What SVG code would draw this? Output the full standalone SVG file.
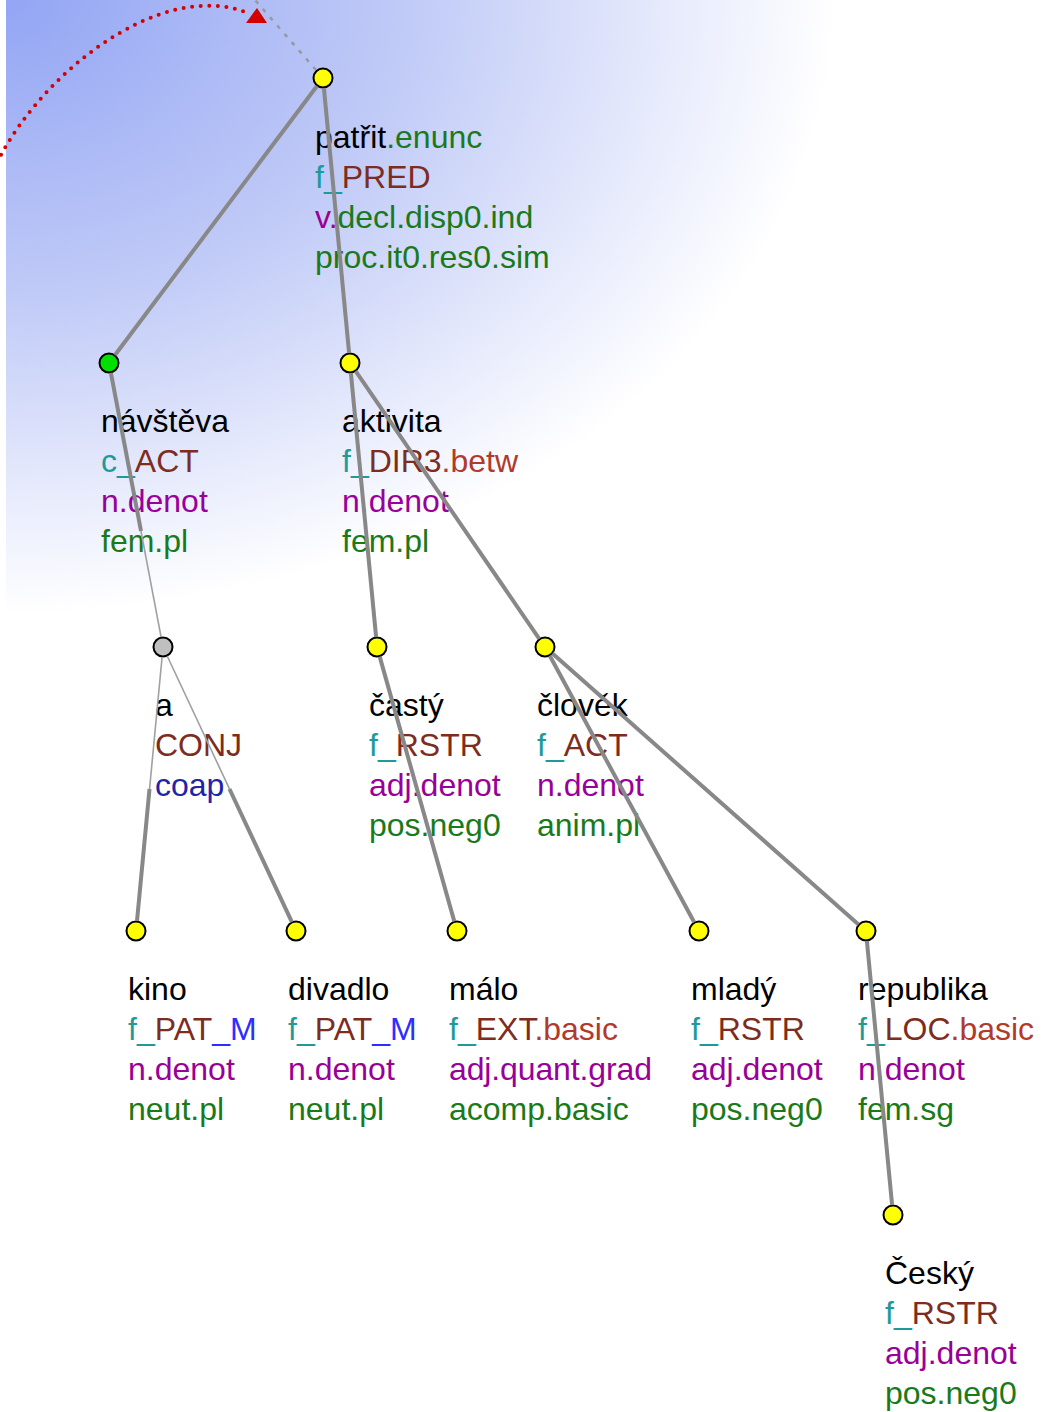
<svg xmlns="http://www.w3.org/2000/svg" width="1042" height="1412" viewBox="0 0 1042 1412">
<defs>
<radialGradient id="bg" gradientUnits="userSpaceOnUse" cx="0" cy="0" r="830" gradientTransform="translate(6 0) scale(1 0.74)">
<stop offset="0" stop-color="#93a5f4"/>
<stop offset="0.5" stop-color="#c2ccf7"/>
<stop offset="1" stop-color="#ffffff"/>
</radialGradient>
<style>
text{font-family:"Liberation Sans",Arial,sans-serif;font-size:32px;}
.k{fill:#000000}.g{fill:#1a7a1a}.t{fill:#1f9a9a}.b{fill:#7d2c1e}.s{fill:#b03a2c}.p{fill:#990099}.m{fill:#2e2eff}.d{fill:#2323a8}
.nd{stroke:#000;stroke-width:2;}
.y{fill:#ffff00}.gr{fill:#00e000}.gy{fill:#c0c0c0}
.e{stroke:#888888;stroke-width:4;fill:none;stroke-linecap:butt}
.th{stroke:#a0a0a0;stroke-width:1.6;fill:none}
</style>
</defs>
<rect x="0" y="0" width="1042" height="1412" fill="#ffffff"/>
<rect x="6" y="0" width="1036" height="1412" fill="url(#bg)"/>

<g id="n-root">
<circle class="nd y" cx="323" cy="78" r="9.5"/>
<text x="315" y="148"><tspan class="k">patřit</tspan><tspan class="g">.enunc</tspan></text>
<text x="315" y="188"><tspan class="t">f_</tspan><tspan class="b">PRED</tspan></text>
<text x="315" y="228"><tspan class="p">v.</tspan><tspan class="g">decl.disp0.ind</tspan></text>
<text x="315" y="268" class="g">proc.it0.res0.sim</text>
</g>
<g id="n-navsteva">
<circle class="nd gr" cx="109" cy="363" r="9.5"/>
<text x="101" y="432" class="k">návštěva</text>
<text x="101" y="472"><tspan class="t">c_</tspan><tspan class="b">ACT</tspan></text>
<text x="101" y="512" class="p">n.denot</text>
<text x="101" y="552" class="g">fem.pl</text>
</g>
<g id="n-aktivita">
<circle class="nd y" cx="350" cy="363" r="9.5"/>
<text x="342" y="432" class="k">aktivita</text>
<text x="342" y="472"><tspan class="t">f_</tspan><tspan class="b">DIR3</tspan><tspan class="s">.betw</tspan></text>
<text x="342" y="512" class="p">n.denot</text>
<text x="342" y="552" class="g">fem.pl</text>
</g>
<g id="n-a">
<circle class="nd gy" cx="163" cy="647" r="9.5"/>
<text x="155" y="716" class="k">a</text>
<text x="155" y="756" class="b">CONJ</text>
<text x="155" y="796" class="d">coap</text>
</g>
<g id="n-casty">
<circle class="nd y" cx="377" cy="647" r="9.5"/>
<text x="369" y="716" class="k">častý</text>
<text x="369" y="756"><tspan class="t">f_</tspan><tspan class="b">RSTR</tspan></text>
<text x="369" y="796" class="p">adj.denot</text>
<text x="369" y="836" class="g">pos.neg0</text>
</g>
<g id="n-clovek">
<circle class="nd y" cx="545" cy="647" r="9.5"/>
<text x="537" y="716" class="k">člověk</text>
<text x="537" y="756"><tspan class="t">f_</tspan><tspan class="b">ACT</tspan></text>
<text x="537" y="796" class="p">n.denot</text>
<text x="537" y="836" class="g">anim.pl</text>
</g>
<g id="n-kino">
<circle class="nd y" cx="136" cy="931" r="9.5"/>
<text x="128" y="1000" class="k">kino</text>
<text x="128" y="1040"><tspan class="t">f_</tspan><tspan class="b">PAT</tspan><tspan class="m">_M</tspan></text>
<text x="128" y="1080" class="p">n.denot</text>
<text x="128" y="1120" class="g">neut.pl</text>
</g>
<g id="n-divadlo">
<circle class="nd y" cx="296" cy="931" r="9.5"/>
<text x="288" y="1000" class="k">divadlo</text>
<text x="288" y="1040"><tspan class="t">f_</tspan><tspan class="b">PAT</tspan><tspan class="m">_M</tspan></text>
<text x="288" y="1080" class="p">n.denot</text>
<text x="288" y="1120" class="g">neut.pl</text>
</g>
<g id="n-malo">
<circle class="nd y" cx="457" cy="931" r="9.5"/>
<text x="449" y="1000" class="k">málo</text>
<text x="449" y="1040"><tspan class="t">f_</tspan><tspan class="b">EXT</tspan><tspan class="s">.basic</tspan></text>
<text x="449" y="1080" class="p" textLength="203" lengthAdjust="spacing">adj.quant.grad</text>
<text x="449" y="1120" class="g">acomp.basic</text>
</g>
<g id="n-mlady">
<circle class="nd y" cx="699" cy="931" r="9.5"/>
<text x="691" y="1000" class="k">mladý</text>
<text x="691" y="1040"><tspan class="t">f_</tspan><tspan class="b">RSTR</tspan></text>
<text x="691" y="1080" class="p">adj.denot</text>
<text x="691" y="1120" class="g">pos.neg0</text>
</g>
<g id="n-republika">
<circle class="nd y" cx="866" cy="931" r="9.5"/>
<text x="858" y="1000" class="k">republika</text>
<text x="858" y="1040"><tspan class="t">f_</tspan><tspan class="b">LOC</tspan><tspan class="s">.basic</tspan></text>
<text x="858" y="1080" class="p">n.denot</text>
<text x="858" y="1120" class="g">fem.sg</text>
</g>
<g id="n-cesky">
<circle class="nd y" cx="893" cy="1215" r="9.5"/>
<text x="885" y="1284" class="k">Český</text>
<text x="885" y="1324"><tspan class="t">f_</tspan><tspan class="b">RSTR</tspan></text>
<text x="885" y="1364" class="p">adj.denot</text>
<text x="885" y="1404" class="g">pos.neg0</text>
</g>

<g id="connectors">
<line x1="316" y1="70" x2="255" y2="0" stroke="#999999" stroke-width="2.5" stroke-dasharray="4 7"/>
<path d="M -10 178 C 30 80 160 -25 250 14" fill="none" stroke="#d40000" stroke-width="4" stroke-linecap="round" stroke-dasharray="0 8.6"/>
<polygon points="257,8 246,23 267,23" fill="#d40000"/>
<line class="e" x1="317" y1="86" x2="115" y2="355"/>
<line class="e" x1="323.9" y1="88" x2="349.1" y2="353"/>
<line class="th" x1="110.9" y1="372.8" x2="161.1" y2="637.2"/>
<line class="e" x1="110.9" y1="372.8" x2="141" y2="531"/>
<line class="e" x1="350.9" y1="373" x2="376.1" y2="637"/>
<line class="e" x1="355.7" y1="371.2" x2="539.3" y2="638.8"/>
<line class="th" x1="162.1" y1="657" x2="137" y2="921"/>
<line class="e" x1="149.5" y1="789" x2="137" y2="921"/>
<line class="th" x1="167.2" y1="656" x2="291.8" y2="921.9"/>
<line class="e" x1="229.5" y1="789" x2="291.8" y2="921.9"/>
<line class="e" x1="379.7" y1="656.6" x2="454.3" y2="921.4"/>
<line class="e" x1="549.8" y1="655.8" x2="694.2" y2="922.2"/>
<line class="e" x1="552.5" y1="653.6" x2="858.5" y2="924.4"/>
<line class="e" x1="866.9" y1="941" x2="892.1" y2="1205"/>
</g>
</svg>
